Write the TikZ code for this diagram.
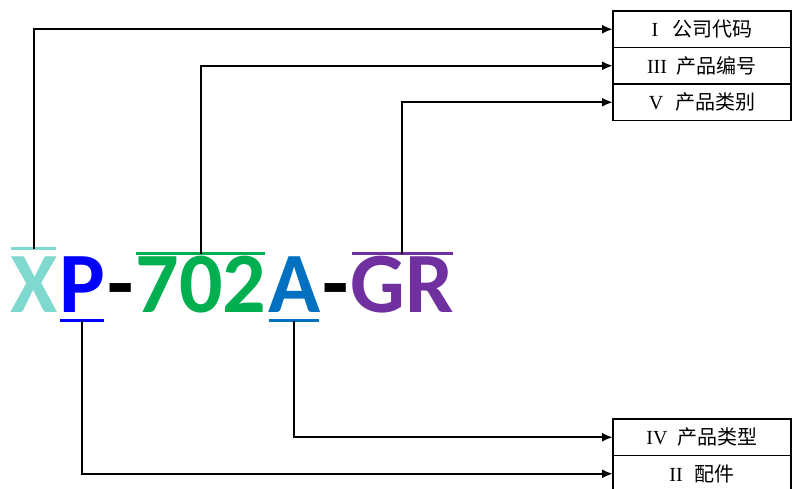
\documentclass[tikz,border=0pt]{standalone}
\usepackage{fontspec}
\setmainfont{Liberation Serif}
\newfontfamily\cjk{Noto Sans CJK SC}
\newfontfamily\codefont{Carlito}
\usetikzlibrary{arrows.meta,positioning,calc}
\definecolor{codeteal}{RGB}{127,217,206}
\definecolor{codeblue}{RGB}{0,0,255}
\definecolor{codegreen}{RGB}{0,176,80}
\definecolor{codeazure}{RGB}{0,112,192}
\definecolor{codepurple}{RGB}{112,48,160}
\begin{document}
\begin{tikzpicture}[
  x=1pt, y=1pt, >={Latex[length=11pt,width=9pt]},
  part/.style={inner sep=0pt, outer sep=0pt, anchor=base west,
    font=\codefont\bfseries\fontsize{86}{90}\selectfont, text height=54pt, text depth=0pt},
  field/.style={draw, line width=1.3pt, minimum width=178pt, minimum height=36.5pt,
    inner sep=0pt, outer sep=0pt, anchor=north west, font=\fontsize{20}{23}\selectfont},
  bar/.style={line width=3pt},
  link/.style={->, line width=2.2pt}]
\useasboundingbox (0,0) rectangle (793,489);
% code letters
\node[part, text=codeteal] (X) at (10,176) {X};
\node[part, text=codeblue, right=2pt of X] (P) {P};
\node[part, right=2pt of P] (dash1) {-};
\node[part, text=codegreen, right=2pt of dash1] (num) {702};
\node[part, text=codeazure, right=2pt of num] (A) {A};
\node[part, right=2pt of A] (dash2) {-};
\node[part, text=codepurple, right=2pt of dash2] (GR) {GR};
% over- and underbars
\draw[bar, codeteal] ($(X.north west)+(1,10)$) -- ($(X.north east)+(-1,10)$);
\draw[bar, codegreen] ($(num.north west)+(1,5)$) -- ($(num.north east)+(-1,5)$);
\draw[bar, codepurple] ($(GR.north west)+(1,5)$) -- ($(GR.north east)+(-1,5)$);
\draw[bar, codeblue] ($(P.south west)+(1,-8)$) -- ($(P.south east)+(-1,-8)$);
\draw[bar, codeazure] ($(A.south west)+(1,-8)$) -- ($(A.south east)+(-1,-8)$);
\coordinate (xbar) at ($(X.north)+(0,10)$);
\coordinate (numbar) at ($(num.north)+(0,5)$);
\coordinate (grbar) at ($(GR.north)+(0,5)$);
\coordinate (pbar) at ($(P.south)+(0,-8)$);
\coordinate (abar) at ($(A.south)+(0,-8)$);
% field boxes
\node[field] (f1) at (613,478) {I\hspace{14pt}{\cjk 公司代码}};
\node[field, below=0pt of f1] (f3) {III\hspace{10pt}{\cjk 产品编号}};
\node[field, below=0pt of f3] (f5) {V\hspace{12pt}{\cjk 产品类别}};
\node[field] (f4) at (613,70) {IV\hspace{10pt}{\cjk 产品类型}};
\node[field, below=0pt of f4] (f2) {II\hspace{12pt}{\cjk 配件}};
% connectors
\draw[link] (xbar) |- (f1.west);
\draw[link] (numbar) |- (f3.west);
\draw[link] (grbar) |- (f5.west);
\draw[link] (abar) |- (f4.west);
\draw[link] (pbar) |- (f2.west);
\end{tikzpicture}
\end{document}
